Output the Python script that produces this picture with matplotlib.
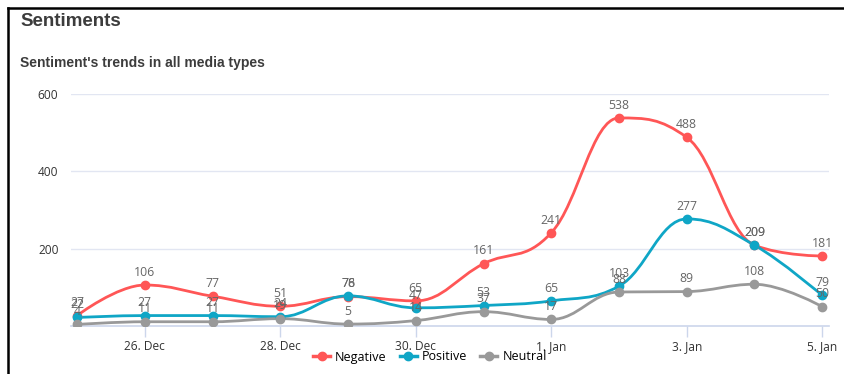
import numpy as np
import matplotlib
matplotlib.use("Agg")
import matplotlib.pyplot as plt
from matplotlib.path import Path
from matplotlib.patches import PathPatch
from matplotlib.lines import Line2D

# data
dates = ["25. Dec", "26. Dec", "27. Dec", "28. Dec", "29. Dec", "30. Dec",
         "31. Dec", "1. Jan", "2. Jan", "3. Jan", "4. Jan", "5. Jan"]
negative = [27, 106, 77, 51, 76, 65, 161, 241, 538, 488, 209, 181]
positive = [22, 27, 27, 24, 78, 47, 53, 65, 103, 277, 209, 79]
neutral = [4, 11, 11, 19, 5, 14, 37, 17, 88, 89, 108, 50]
tick_idx = [1, 3, 5, 7, 9, 11]
y_ticks = [200, 400, 600]

series = [("Negative", negative, "#ff5656"),
          ("Positive", positive, "#0fa6c6"),
          ("Neutral", neutral, "#999999")]


def spline_path(xs, ys, smoothing=1.5):
    # highcharts-like spline: cubic bezier segments between the points
    n = len(xs)
    left = [None] * n
    right = [None] * n
    for i in range(1, n - 1):
        x0, y0 = xs[i - 1], ys[i - 1]
        x, y = xs[i], ys[i]
        x1, y1 = xs[i + 1], ys[i + 1]
        d = smoothing + 1
        lx, ly = (smoothing * x + x0) / d, (smoothing * y + y0) / d
        rx, ry = (smoothing * x + x1) / d, (smoothing * y + y1) / d
        corr = ((ry - ly) * (rx - x)) / (rx - lx) + y - ry
        ly += corr
        ry += corr
        if ly > y0 and ly > y:
            ly = max(y0, y)
            ry = 2 * y - ly
        elif ly < y0 and ly < y:
            ly = min(y0, y)
            ry = 2 * y - ly
        if ry > y1 and ry > y:
            ry = max(y1, y)
            ly = 2 * y - ry
        elif ry < y1 and ry < y:
            ry = min(y1, y)
            ly = 2 * y - ry
        left[i] = (lx, ly)
        right[i] = (rx, ry)
    verts = [(xs[0], ys[0])]
    codes = [Path.MOVETO]
    for i in range(1, n):
        c1 = right[i - 1] if right[i - 1] else (xs[i - 1], ys[i - 1])
        c2 = left[i] if left[i] else (xs[i], ys[i])
        verts += [c1, c2, (xs[i], ys[i])]
        codes += [Path.CURVE4] * 3
    return Path(verts, codes)


fig = plt.figure(figsize=(8.45, 3.74), dpi=100)
ax = fig.add_axes([71 / 845, 1 - 326 / 374, 758 / 845, 232 / 374])

x = np.arange(len(dates))
for name, vals, col in series:
    ax.add_patch(PathPatch(spline_path(x, vals), facecolor="none", edgecolor=col,
                           lw=2.0, capstyle="round", zorder=3))
    ax.plot(x, vals, "o", color=col, ms=6, zorder=4)
    for xi, v in zip(x, vals):
        ax.annotate(str(v), (xi, v), xytext=(0, 4.5), textcoords="offset points",
                    ha="center", va="bottom", fontsize=8.8, color="#666666",
                    family="Open Sans", zorder=5)

ax.set_xlim(-0.09, 11.1)
ax.set_ylim(0, 600)
ax.set_xticks(tick_idx)
ax.set_xticklabels([dates[i] for i in tick_idx], family="Open Sans", fontsize=8.6, color="#333333")
ax.set_yticks(y_ticks)
ax.set_yticklabels([str(t) for t in y_ticks], family="Open Sans", fontsize=8.6, color="#333333")
ax.tick_params(axis="x", length=8, width=1, color="#ccd6eb", pad=2)
ax.tick_params(axis="y", length=0, pad=9)
ax.grid(axis="y", color="#e2e6f2", lw=1)
ax.set_axisbelow(True)
for s in ["top", "right", "left"]:
    ax.spines[s].set_visible(False)
ax.spines["bottom"].set_color("#ccd6eb")
ax.spines["bottom"].set_linewidth(1.2)

handles = [Line2D([0], [0], color=c, lw=2.5, marker="o", ms=6) for _, _, c in series]
fig.legend(handles, [s[0] for s in series], loc="center", bbox_to_anchor=(430 / 845, 1 - 357 / 374),
           ncol=3, frameon=False, prop={"family": "Open Sans", "size": 9},
           handlelength=1.35, handletextpad=0.4, columnspacing=1.05)

fig.text(20 / 845, 1 - 22 / 374, "Sentiments", family="Liberation Sans", weight="bold",
         fontsize=13.5, color="#3c3c3c", va="center")
fig.text(20 / 845, 1 - 63 / 374, "Sentiment's trends in all media types", family="Liberation Sans",
         weight="bold", fontsize=10, color="#3c3c3c", va="center")

# black frame on the top and left side
fig.add_artist(Line2D([8 / 845, 1], [1 - 8 / 374, 1 - 8 / 374], color="black", lw=1.8))
fig.add_artist(Line2D([8 / 845, 8 / 845], [0, 1 - 8 / 374], color="black", lw=1.8))

fig.savefig("out.png", dpi=100)
